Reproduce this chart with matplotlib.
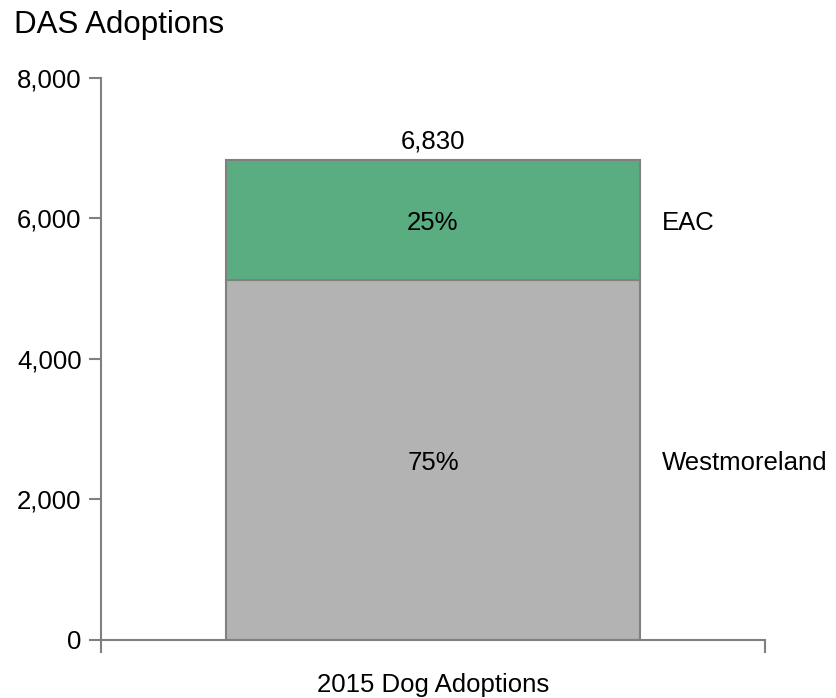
import matplotlib
matplotlib.use("Agg")
import matplotlib.pyplot as plt
from matplotlib.ticker import FuncFormatter

plt.rcParams['font.family'] = ['Liberation Sans', 'DejaVu Sans']

# data
categories = ["2015 Dog Adoptions"]
series_names = ["Westmoreland", "EAC"]
westmoreland = [5123]
eac = [1707]
total_label = "6,830"
pct_labels = ["75%", "25%"]
colors = ["#b3b3b3", "#5aad80"]

fs = 18.5

fig = plt.figure(figsize=(8.36, 6.98), dpi=100)
ax = fig.add_axes([0.1208, 0.0831, 0.7942, 0.8052])

x = [0.5]
width = 0.623
ax.bar(x, westmoreland, width=width, color=colors[0], edgecolor="#808080", linewidth=1.5)
ax.bar(x, eac, width=width, bottom=westmoreland, color=colors[1], edgecolor="#808080", linewidth=1.5)

ax.set_xlim(0, 1)
ax.set_ylim(0, 8000)
ax.set_yticks([0, 2000, 4000, 6000, 8000])
ax.yaxis.set_major_formatter(FuncFormatter(lambda v, p: f"{int(v):,}"))
ax.set_xticks([0, 1])
ax.set_xticklabels([])

for side in ["top", "right"]:
    ax.spines[side].set_visible(False)
for side in ["left", "bottom"]:
    ax.spines[side].set_color("#808080")
    ax.spines[side].set_linewidth(1.5)
ax.tick_params(axis="y", colors="#808080", length=9, width=1.5, labelcolor="black", labelsize=fs, pad=5)
ax.tick_params(axis="x", colors="#808080", length=9, width=1.5)

# labels inside the bar segments
ax.text(x[0], westmoreland[0] / 2, pct_labels[0], ha="center", va="center_baseline", fontsize=fs)
ax.text(x[0], westmoreland[0] + eac[0] / 2, pct_labels[1], ha="center", va="center_baseline", fontsize=fs)
ax.text(x[0], westmoreland[0] + eac[0] + 160, total_label, ha="center", va="baseline", fontsize=fs)

# series labels on the right
ax.text(0.845, westmoreland[0] / 2, series_names[0], ha="left", va="center_baseline", fontsize=fs)
ax.text(0.845, westmoreland[0] + eac[0] / 2, series_names[1], ha="left", va="center_baseline", fontsize=fs)

ax.text(x[0], -0.0925, categories[0], transform=ax.get_xaxis_transform(), ha="center", va="baseline", fontsize=fs)

fig.text(0.017, 0.953, "DAS Adoptions", ha="left", va="baseline", fontsize=22.5)

fig.savefig("out.png", dpi=100)
